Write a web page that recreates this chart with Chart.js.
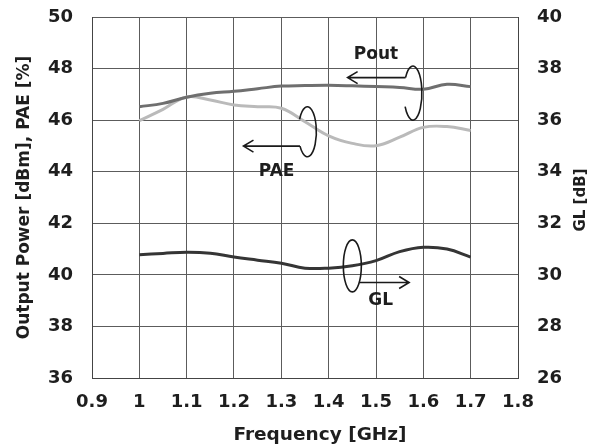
<!DOCTYPE html>
<html>
<head>
<meta charset="utf-8">
<script src="https://cdn.jsdelivr.net/npm/chart.js@4.4.0/dist/chart.umd.min.js"></script>
<style>
  body { margin: 0; background: #fff; }
  #wrap { width: 602px; height: 444px; }
</style>
</head>
<body>
<div id="wrap"><canvas id="myChart" width="602" height="444"></canvas></div>
<script>
// frequency points [GHz]
var freq = [1.0, 1.05, 1.1, 1.15, 1.2, 1.25, 1.3, 1.35, 1.4, 1.45, 1.5, 1.55, 1.6, 1.65, 1.7];
// Output power [dBm]
var pout = [46.52, 46.65, 46.89, 47.04, 47.12, 47.22, 47.32, 47.34, 47.35, 47.33, 47.3, 47.27, 47.2, 47.39, 47.3];
// PAE [%]
var pae = [45.98, 46.42, 46.9, 46.78, 46.59, 46.52, 46.46, 45.94, 45.39, 45.1, 45.01, 45.34, 45.72, 45.75, 45.6];
// GL [dB] (right axis)
var gl = [30.78, 30.83, 30.88, 30.84, 30.69, 30.57, 30.45, 30.26, 30.26, 30.35, 30.55, 30.9, 31.07, 31.0, 30.69];

var FONT = "DejaVu Sans";
var txt = "#1e1e1e";

function pts(ys) {
  return freq.map(function (f, i) { return { x: f, y: ys[i] }; });
}

// arrows + ellipses + axis titles
var annot = {
  id: "annot",
  afterDatasetsDraw: function (chart) {
    var ctx = chart.ctx;
    var xs = chart.scales.x, yl = chart.scales.y, yr = chart.scales.y2;
    ctx.save();
    ctx.strokeStyle = "#1a1a1a";
    ctx.fillStyle = "#1a1a1a";
    ctx.lineWidth = 1.6;

    function ell(cx, cy, rx, ry, a0, a1) {
      ctx.beginPath();
      ctx.ellipse(cx, cy, rx, ry, 0, a0 * Math.PI / 180, a1 * Math.PI / 180);
      ctx.stroke();
    }
    function pt(cx, cy, rx, ry, a) {
      return [cx + rx * Math.cos(a * Math.PI / 180), cy + ry * Math.sin(a * Math.PI / 180)];
    }
    function arrow(x0, y, x1) {
      var d = x1 > x0 ? 1 : -1;
      ctx.beginPath();
      ctx.moveTo(x0, y);
      ctx.lineTo(x1, y);
      ctx.moveTo(x1 - d * 10, y - 6);
      ctx.lineTo(x1, y);
      ctx.lineTo(x1 - d * 10, y + 6);
      ctx.stroke();
    }

    // Pout
    var cx = xs.getPixelForValue(1.578), cy = yl.getPixelForValue(47.05);
    ell(cx, cy, 9, 27, 215, 150);
    var p = pt(cx, cy, 9, 27, 215);
    arrow(p[0], p[1], xs.getPixelForValue(1.44));
    // PAE
    cx = xs.getPixelForValue(1.355); cy = yl.getPixelForValue(45.55);
    ell(cx, cy, 9, 25, 210, 145);
    p = pt(cx, cy, 9, 25, 145);
    arrow(p[0], p[1], xs.getPixelForValue(1.22));
    // GL
    cx = xs.getPixelForValue(1.45); cy = yr.getPixelForValue(30.35);
    ell(cx, cy, 9, 26, 0, 360);
    p = pt(cx, cy, 9, 26, 40);
    arrow(p[0], p[1], xs.getPixelForValue(1.57));

    ctx.font = "bold 17px " + FONT;
    ctx.fillStyle = txt;
    ctx.textAlign = "center";
    ctx.textBaseline = "middle";
    ctx.fillText("Pout", xs.getPixelForValue(1.5), yl.getPixelForValue(48.55));
    ctx.fillText("PAE", xs.getPixelForValue(1.29), yl.getPixelForValue(44.0));
    ctx.fillText("GL", xs.getPixelForValue(1.51), yr.getPixelForValue(29.0));

    // axis titles
    ctx.font = "bold 18.5px " + FONT;
    ctx.fillText("Frequency [GHz]", 320, 435);
    ctx.font = "bold 17px " + FONT;
    ctx.save();
    ctx.translate(25, (chart.chartArea.top + chart.chartArea.bottom) / 2);
    ctx.rotate(-Math.PI / 2);
    ctx.fillText("Output Power [dBm], PAE [%]", 0, 0);
    ctx.restore();
    ctx.font = "bold 15px " + FONT;
    ctx.save();
    ctx.translate(581, 200);
    ctx.rotate(-Math.PI / 2);
    ctx.fillText("GL [dB]", 0, 0);
    ctx.restore();
    ctx.restore();
  }
};

var tickFont = { family: FONT, size: 18, weight: "bold" };

function fitY(w) {
  return function (s) { s.width = w; s.paddingTop = 0; s.paddingBottom = 0; };
}

var config = {
  type: "line",
  data: {
    datasets: [
      { label: "Pout", data: pts(pout), yAxisID: "y", borderColor: "#6f6f6f", borderWidth: 3, pointRadius: 0, tension: 0.4, fill: false },
      { label: "PAE", data: pts(pae), yAxisID: "y", borderColor: "#bababa", borderWidth: 3, pointRadius: 0, tension: 0.4, fill: false },
      { label: "GL", data: pts(gl), yAxisID: "y2", borderColor: "#353535", borderWidth: 3, pointRadius: 0, tension: 0.4, fill: false }
    ]
  },
  options: {
    responsive: false,
    animation: false,
    devicePixelRatio: 1,
    layout: { padding: { top: 17 } },
    plugins: { legend: { display: false }, tooltip: { enabled: false } },
    scales: {
      x: {
        type: "linear",
        min: 0.9,
        max: 1.8,
        afterFit: function (s) { s.height = 66; },
        ticks: {
          stepSize: 0.1,
          padding: 14,
          color: txt,
          font: tickFont,
          callback: function (v) { return String(+v.toFixed(1)); }
        },
        grid: { color: "#5c5c5c", lineWidth: 1, drawTicks: false },
        border: { color: "#444", width: 1 }
      },
      y: {
        position: "left",
        min: 36,
        max: 50,
        afterFit: fitY(92),
        ticks: { stepSize: 2, padding: 19, color: txt, font: tickFont },
        grid: { color: "#5c5c5c", lineWidth: 1, drawTicks: false },
        border: { color: "#444", width: 1 }
      },
      y2: {
        position: "right",
        min: 26,
        max: 40,
        afterFit: fitY(84),
        ticks: { stepSize: 2, padding: 19, color: txt, font: tickFont },
        grid: { drawOnChartArea: false, drawTicks: false },
        border: { color: "#444", width: 1 }
      }
    }
  },
  plugins: [annot]
};

new Chart(document.getElementById("myChart").getContext("2d"), config);
</script>
</body>
</html>
